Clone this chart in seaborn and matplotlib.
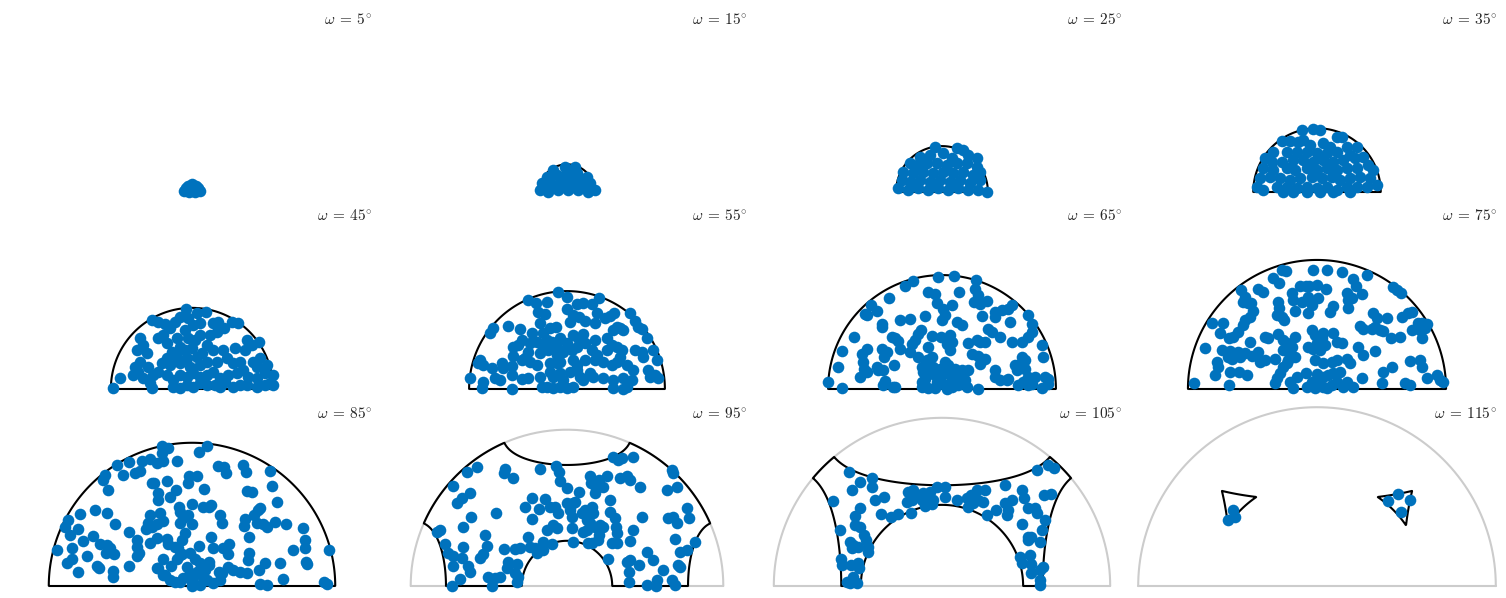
import numpy as np
import pandas as pd
import matplotlib
matplotlib.use("Agg")
import matplotlib.pyplot as plt
import seaborn as sns

# misorientation angle of each slice (degrees)
omegas = [5, 15, 25, 35, 45, 55, 65, 75, 85, 95, 105, 115]

# projected rotation axes in each slice, (x, y) offsets from the slice origin
pts_05 = [(-8, 1), (-4, 3), (0, 5), (4, 3), (8, 1), (-3, 0), (3, 0), (0, 2), (0, 8),
          (-4, 6), (4, 6), (-6, 4), (6, 4)]
pts_15 = [(-14, 22), (-2, 25), (8, 25), (-20, 15), (-10, 17), (0, 19), (10, 19), (20, 15),
          (-25, 9), (-17, 9), (-7, 10), (3, 10), (13, 10), (23, 9), (-27, 2), (-19, 0),
          (-9, 2), (1, 2), (11, 2), (21, 0), (28, 2), (-5, 5), (6, 5), (16, 5), (-13, 5),
          (-22, 5), (5, 14), (-5, 14), (15, 12)]
pts_25 = [(-7, 45), (15, 44), (21, 42), (-22, 35), (-12, 37), (1, 39), (10, 34), (26, 37),
          (35, 34), (-32, 29), (-25, 27), (-15, 29), (-5, 29), (5, 27), (15, 29), (25, 29),
          (35, 25), (38, 20), (-39, 20), (-29, 19), (-19, 20), (-9, 19), (1, 20), (11, 19),
          (21, 20), (31, 17), (-40, 12), (-32, 10), (-22, 12), (-12, 10), (-2, 12), (8, 10),
          (18, 12), (28, 9), (38, 12), (-44, 4), (-34, 2), (-24, 4), (-14, 2), (-4, 4),
          (6, 2), (16, 4), (26, 2), (36, 2), (45, 0)]
pts_35 = [(-15, 62), (-4, 63), (3, 62), (-14, 52), (20, 55), (25, 55), (-35, 51), (-27, 51),
          (-19, 50), (-7, 47), (6, 49), (13, 45), (30, 45), (40, 45), (-44, 40), (-30, 40),
          (-20, 40), (-10, 40), (0, 39), (10, 39), (20, 40), (33, 37), (-52, 34), (-45, 30),
          (-35, 30), (-24, 32), (-14, 32), (-4, 30), (6, 32), (16, 30), (26, 32), (38, 34),
          (46, 35), (-54, 24), (-44, 22), (-30, 24), (-22, 22), (-10, 24), (0, 22), (10, 24),
          (20, 22), (30, 24), (40, 24), (51, 27), (56, 22), (-57, 14), (-47, 15), (-37, 14),
          (-27, 12), (-17, 14), (-5, 15), (5, 14), (15, 15), (23, 12), (33, 14), (43, 15),
          (53, 14), (-60, 5), (-54, 2), (-40, 5), (-30, 5), (-20, 4), (-10, 5), (0, 4),
          (10, 5), (20, 2), (30, 5), (40, 5), (50, 5), (60, 7), (-34, 0), (-24, 0), (-10, 0),
          (3, 0), (16, 0), (33, 0)]
pts_45 = [(-6, 80), (5, 76), (14, 77), (-12, 72), (-4, 71), (-40, 69), (-34, 67), (-27, 65),
          (-22, 61), (-17, 67), (1, 64), (8, 66), (21, 66), (26, 67), (40, 67), (46, 66),
          (32, 61), (25, 57), (18, 54), (-52, 51), (-49, 44), (-55, 39), (-45, 36), (-34, 51),
          (-29, 54), (-25, 46), (-15, 51), (-7, 59), (-4, 51), (3, 49), (8, 54), (15, 44),
          (-12, 42), (-7, 39), (0, 41), (-20, 37), (-25, 31), (-15, 32), (-5, 31), (5, 32),
          (10, 36), (21, 39), (31, 39), (43, 41), (55, 49), (60, 44), (53, 39), (67, 47),
          (-52, 27), (-57, 22), (-54, 17), (-59, 14), (-44, 22), (-39, 14), (-34, 17),
          (-30, 26), (-22, 24), (-12, 26), (-2, 22), (8, 24), (15, 27), (25, 27), (35, 31),
          (41, 26), (48, 27), (61, 27), (68, 31), (75, 24), (65, 22), (-72, 11), (-49, 11),
          (-42, 6), (-25, 14), (-19, 9), (-12, 14), (-5, 12), (1, 16), (8, 12), (15, 14),
          (21, 17), (28, 11), (36, 14), (45, 16), (51, 19), (56, 12), (65, 11), (73, 16),
          (78, 6), (81, 14), (-79, 1), (-40, 1), (-19, 2), (-12, 1), (-5, 4), (1, 2), (8, 6),
          (15, 4), (23, 4), (28, 2), (33, 7), (41, 2), (48, 4), (55, 4), (65, 2), (73, 4),
          (81, 4)]
pts_55 = [(-9, 97), (0, 92), (-39, 89), (-31, 86), (-20, 87), (-29, 77), (-22, 75), (0, 80),
          (10, 85), (16, 86), (25, 85), (32, 91), (-59, 63), (-74, 61), (-77, 56), (-27, 66),
          (-17, 61), (-11, 62), (-47, 60), (3, 67), (6, 74), (12, 72), (18, 68), (30, 76),
          (28, 66), (38, 71), (43, 73), (47, 76), (63, 76), (68, 68), (71, 62), (75, 60),
          (-24, 56), (-35, 56), (-45, 49), (-49, 44), (-37, 46), (-54, 42), (-30, 47),
          (-20, 49), (-15, 47), (-7, 51), (0, 46), (6, 54), (11, 51), (16, 55), (18, 46),
          (28, 49), (40, 51), (46, 59), (50, 62), (53, 61), (56, 59), (-39, 37), (-42, 31),
          (-24, 41), (-27, 36), (-19, 39), (-10, 42), (-10, 34), (-4, 37), (5, 39), (10, 42),
          (25, 39), (30, 34), (40, 39), (45, 44), (50, 42), (55, 39), (68, 39), (75, 37),
          (80, 51), (86, 39), (90, 29), (76, 32), (-87, 29), (-89, 26), (-84, 24), (-75, 21),
          (-65, 26), (-64, 21), (-54, 33), (-55, 23), (-45, 29), (-37, 27), (-30, 24),
          (-17, 26), (-10, 26), (-7, 27), (6, 29), (10, 24), (18, 29), (28, 29), (36, 27),
          (45, 24), (50, 27), (53, 32), (60, 24), (66, 19), (-97, 11), (-84, 7), (-85, 1),
          (-72, 11), (-67, 9), (-55, 14), (-45, 10), (-39, 11), (-27, 12), (-17, 17), (-14, 12),
          (-7, 16), (-4, 9), (3, 17), (10, 19), (13, 12), (16, 9), (23, 16), (26, 12),
          (36, 11), (46, 9), (56, 11), (65, 9), (81, 19), (83, 12), (88, 14), (91, 11),
          (-55, 0), (-25, 2), (-20, 2), (-14, 1), (-7, 2), (0, 1), (6, 2), (46, 1), (60, 2),
          (56, 0)]
pts_65 = [(-29, 108), (-37, 103), (-4, 112), (12, 113), (34, 109), (-14, 97), (-7, 95),
          (17, 97), (33, 100), (36, 94), (32, 87), (38, 85), (45, 88), (-53, 91), (-71, 84),
          (-65, 78), (-77, 75), (-75, 74), (-5, 86), (1, 80), (10, 84), (3, 74), (0, 69),
          (-17, 73), (-60, 65), (-42, 69), (-32, 70), (-60, 62), (15, 67), (20, 64), (40, 73),
          (53, 77), (60, 79), (66, 80), (70, 84), (53, 72), (68, 67), (86, 74), (90, 65),
          (-88, 52), (-50, 52), (-47, 51), (-44, 48), (-42, 40), (-21, 59), (-24, 55),
          (-10, 53), (-1, 52), (8, 54), (10, 47), (5, 45), (8, 39), (26, 46), (35, 49),
          (38, 47), (43, 47), (46, 60), (50, 57), (58, 52), (70, 47), (80, 47), (86, 52),
          (90, 57), (100, 44), (101, 32), (-100, 38), (-80, 35), (-75, 40), (-60, 40),
          (-55, 37), (-58, 32), (-30, 45), (-27, 49), (-32, 37), (-14, 42), (-24, 32),
          (-10, 32), (-15, 29), (30, 35), (36, 33), (40, 30), (43, 30), (38, 25), (80, 32),
          (83, 29), (76, 24), (-79, 27), (-78, 20), (-104, 22), (-82, 12), (-75, 17),
          (-65, 22), (-64, 19), (-59, 19), (-48, 24), (-20, 22), (-19, 17), (-17, 10),
          (-20, 7), (-14, 15), (-9, 22), (-7, 14), (-5, 7), (-2, 20), (0, 14), (3, 27),
          (6, 24), (6, 17), (10, 10), (13, 20), (16, 14), (20, 19), (21, 9), (1, 5),
          (26, 19), (23, 9), (53, 19), (53, 12), (58, 9), (65, 9), (66, 10), (73, 24),
          (83, 20), (75, 19), (86, 12), (93, 12), (103, 12), (106, 10), (-114, 7), (-100, 1),
          (-57, 8), (-59, 4), (-49, 2), (-47, 2), (-20, 2), (-14, 1), (-7, 1), (5, 0),
          (10, 2), (16, 4), (25, 2), (36, 0), (76, 4), (81, 7), (86, 4), (90, 5), (100, 1),
          (106, 5)]
pts_75 = [(-35, 119), (-31, 118), (-4, 119), (10, 119), (25, 117), (50, 114), (-44, 111),
          (-38, 106), (-17, 103), (-11, 103), (-8, 103), (0, 104), (9, 100), (36, 110),
          (39, 103), (30, 96), (35, 91), (45, 95), (-76, 99), (-59, 100), (-54, 97), (76, 102),
          (80, 99), (84, 96), (-72, 92), (-69, 86), (-66, 86), (-74, 87), (-25, 96), (-24, 89),
          (-15, 87), (-9, 92), (1, 91), (-5, 84), (-9, 76), (-22, 78), (-39, 87), (-38, 81),
          (-35, 72), (-33, 69), (-40, 74), (16, 83), (13, 77), (31, 81), (31, 89), (-64, 78),
          (-67, 72), (-72, 69), (-74, 64), (-79, 57), (-84, 52), (-88, 51), (-97, 56),
          (-94, 66), (-105, 66), (56, 76), (60, 71), (70, 71), (85, 72), (91, 76), (95, 77),
          (101, 66), (105, 66), (110, 65), (108, 61), (103, 59), (95, 59), (105, 51), (43, 63),
          (46, 60), (55, 60), (63, 59), (66, 58), (58, 62), (74, 51), (83, 52), (-52, 52),
          (-49, 51), (-39, 55), (-34, 49), (-30, 46), (-22, 52), (-25, 42), (-34, 39),
          (-27, 36), (-29, 29), (-22, 32), (-30, 26), (-34, 22), (-37, 16), (-40, 11),
          (-42, 6), (-5, 59), (-2, 54), (6, 56), (5, 51), (0, 46), (-9, 42), (-4, 40), (3, 39),
          (8, 44), (16, 56), (20, 47), (25, 46), (-112, 41), (-95, 39), (-87, 38), (-79, 37),
          (-89, 32), (-85, 30), (-77, 32), (-67, 47), (-59, 37), (-65, 33), (-57, 27),
          (-52, 29), (-42, 30), (-100, 27), (-99, 22), (-102, 14), (-87, 17), (-78, 17),
          (-70, 14), (41, 42), (46, 34), (58, 38), (-2, 29), (6, 26), (15, 27), (20, 29),
          (30, 30), (33, 26), (93, 28), (103, 29), (105, 22), (75, 22), (66, 17), (-20, 12),
          (-11, 16), (0, 15), (6, 12), (11, 14), (16, 16), (23, 17), (-5, 7), (1, 6), (6, 2),
          (15, 4), (20, 7), (-10, 2), (-2, 1), (10, 1), (-27, 7), (-24, 1), (26, 2), (36, 2),
          (45, 11), (30, 7), (-123, 6), (-88, 4), (65, 6), (88, 6), (93, 4), (110, 11),
          (120, 14), (123, 9), (126, 7), (-72, 36)]
pts_85 = [(-30, 140), (-24, 138), (-30, 133), (-29, 125), (7, 134), (15, 140), (-75, 121),
          (-63, 124), (-50, 125), (-42, 127), (-35, 123), (-15, 125), (-87, 111), (-89, 106),
          (-69, 111), (-57, 113), (-52, 115), (-40, 103), (-38, 103), (-25, 105), (-3, 110),
          (5, 110), (-4, 103), (-84, 96), (-34, 93), (-34, 86), (-22, 89), (-16, 96), (26, 120),
          (32, 119), (34, 113), (51, 121), (54, 114), (78, 115), (12, 97), (55, 95), (60, 94),
          (80, 100), (85, 84), (-97, 76), (-85, 73), (-112, 72), (-124, 66), (-127, 59),
          (-122, 51), (-114, 57), (-120, 38), (-135, 36), (-99, 50), (-109, 45), (-92, 42),
          (-85, 41), (-82, 38), (-78, 32), (-86, 33), (-105, 30), (-120, 27), (-125, 23),
          (-114, 14), (-95, 20), (-93, 18), (-79, 15), (-79, 9), (-77, 62), (-63, 54),
          (-55, 46), (-55, 39), (-53, 33), (-55, 30), (-63, 20), (-42, 71), (-32, 73),
          (-44, 63), (-35, 62), (-29, 65), (-40, 59), (-46, 57), (-42, 43), (-35, 48),
          (-25, 47), (-24, 42), (-13, 79), (-12, 74), (0, 82), (-9, 68), (-4, 71), (-12, 63),
          (0, 62), (-7, 53), (11, 79), (17, 79), (19, 81), (28, 71), (30, 63), (19, 49),
          (7, 40), (21, 38), (31, 38), (37, 42), (36, 32), (-17, 39), (-14, 38), (-10, 46),
          (-12, 31), (53, 67), (52, 60), (62, 71), (66, 76), (68, 78), (65, 63), (71, 62),
          (75, 59), (83, 64), (94, 62), (111, 58), (57, 49), (57, 33), (56, 26), (113, 46),
          (113, 38), (114, 24), (115, 22), (101, 36), (137, 36), (-29, 27), (-34, 18),
          (-21, 20), (-27, 11), (-15, 27), (-10, 32), (-2, 33), (3, 27), (8, 23), (17, 24),
          (17, 21), (-5, 19), (-2, 13), (1, 9), (5, 14), (8, 16), (11, 9), (-12, 4), (-17, 4),
          (-9, 8), (0, 3), (8, 1), (15, 6), (21, 3), (0, 0), (13, 16), (-29, 11), (-35, 18),
          (-22, 6), (27, 14), (30, 13), (36, 19), (41, 16), (48, 14), (55, 13), (28, 6),
          (67, 16), (73, 23), (88, 23), (91, 7), (68, 2), (75, 1), (132, 4), (135, 2)]
pts_95 = [(46, 129), (51, 126), (55, 128), (66, 129), (-90, 119), (-100, 114), (-62, 117),
          (-63, 113), (-54, 108), (-27, 117), (-11, 120), (-8, 114), (-7, 105), (-114, 100),
          (-97, 93), (-105, 88), (-110, 83), (0, 98), (12, 94), (23, 110), (32, 106), (40, 110),
          (24, 103), (29, 97), (28, 93), (36, 99), (53, 108), (63, 106), (73, 99), (60, 110),
          (105, 116), (106, 113), (100, 96), (110, 99), (-35, 88), (-22, 87), (-42, 79),
          (-28, 77), (-17, 79), (-12, 79), (-9, 73), (0, 83), (3, 76), (6, 83), (5, 69),
          (8, 84), (-71, 73), (-96, 69), (-104, 59), (-35, 67), (15, 73), (18, 76), (25, 79),
          (26, 73), (20, 66), (23, 63), (28, 59), (33, 61), (36, 59), (20, 56), (16, 54),
          (43, 86), (43, 74), (48, 68), (-14, 61), (-20, 56), (-10, 58), (5, 58), (-130, 54),
          (-127, 56), (-82, 51), (-39, 49), (75, 69), (101, 68), (106, 69), (110, 63),
          (122, 68), (120, 78), (49, 59), (50, 53), (66, 56), (63, 45), (45, 43), (50, 43),
          (25, 43), (32, 51), (31, 46), (21, 43), (-122, 42), (-104, 39), (-80, 40), (-63, 37),
          (-52, 37), (-47, 38), (-37, 39), (-32, 38), (-30, 33), (-24, 44), (-15, 42), (6, 44),
          (-24, 36), (-119, 33), (-114, 30), (-105, 28), (-84, 32), (-87, 28), (108, 47),
          (128, 44), (120, 36), (113, 34), (80, 34), (41, 27), (60, 24), (63, 26), (72, 21),
          (86, 26), (96, 16), (111, 21), (113, 19), (-114, 20), (-99, 20), (-97, 14), (-59, 24),
          (-50, 22), (-60, 18), (-52, 13), (-49, 9), (-107, 7), (-79, 9), (-72, 8), (-67, 9),
          (-75, 0), (-115, 0), (-50, 4), (62, 14), (62, 4), (80, 1), (90, 6), (89, 0), (105, 6),
          (108, 1)]
pts_105 = [(-93, 114), (-82, 104), (-70, 108), (-70, 99), (-90, 96), (-109, 85), (-67, 86),
           (-58, 89), (-87, 70), (-82, 78), (-61, 72), (-51, 69), (-44, 72), (-31, 73),
           (-102, 56), (-87, 61), (-82, 59), (-78, 51), (-92, 44), (-89, 41), (-84, 39),
           (-76, 46), (-74, 39), (-74, 34), (-90, 38), (-101, 27), (-100, 21), (-91, 21),
           (-84, 23), (-83, 18), (-89, 9), (-95, 4), (-85, 3), (-92, 3), (-34, 94), (-29, 96),
           (-24, 90), (-19, 93), (-15, 89), (-20, 86), (-12, 94), (-9, 86), (-5, 99), (3, 99),
           (3, 89), (-10, 82), (-17, 80), (-30, 86), (-35, 84), (15, 86), (25, 88), (29, 91),
           (26, 79), (31, 83), (36, 86), (41, 84), (35, 96), (43, 96), (45, 71), (54, 76),
           (63, 101), (63, 83), (66, 76), (65, 71), (70, 86), (80, 96), (82, 88), (86, 78),
           (93, 78), (95, 73), (95, 116), (106, 121), (112, 118), (102, 91), (109, 92),
           (103, 66), (80, 62), (86, 49), (89, 49), (100, 56), (98, 44), (86, 46), (78, 29),
           (80, 23), (89, 22), (88, 31), (89, 13), (101, 19), (98, 16), (98, 6), (98, 1)]
pts_115 = [(-84, 76), (-82, 69), (-89, 66), (81, 92), (71, 85), (93, 86), (84, 74)]

slices = [pts_05, pts_15, pts_25, pts_35, pts_45, pts_55,
          pts_65, pts_75, pts_85, pts_95, pts_105, pts_115]

SCALE = 212.0  # projected radius of the full sphere of axes (w = 180)
BLUE = "#0072BD"
GREY = "#cccccc"


def fz_field(w):
    # orthorhombic FZ (|r_i| <= 1) cut at angle w, equal-area view of upper half
    R = SCALE * np.sin(np.radians(w) / 2)
    t = np.tan(np.radians(w) / 2)
    X, Y = np.meshgrid(np.linspace(-1.06 * R, 1.06 * R, 1100),
                       np.linspace(-0.06 * R, 1.06 * R, 560))
    rho = np.hypot(X, Y) / R
    th = 2 * np.arcsin(np.clip(rho, 0, 1) / np.sqrt(2))
    ph = np.arctan2(Y, X)
    n = np.abs(np.stack([np.sin(th) * np.cos(ph), np.sin(th) * np.sin(ph), np.cos(th)]))
    g = np.maximum.reduce([rho - 1, -Y / R, t * n.max(axis=0) - 1])
    return X, Y, g, R


sns.set_style("white")
plt.rcParams["mathtext.fontset"] = "cm"

fig = plt.figure(figsize=(15.06, 5.98), dpi=100)
W, H = 1506, 598

for i, (w, pts) in enumerate(zip(omegas, slices)):
    row, col = divmod(i, 4)
    cx = 192 + 375 * col
    base = 192 + 197 * row
    ax = fig.add_axes([(cx - 187) / W, (H - base - 8) / H, 374 / W, 193 / H])
    ax.axis("off")

    X, Y, g, R = fz_field(w)
    if w > 90:
        a = np.linspace(0, np.pi, 300)
        ax.plot(R * np.cos(a), R * np.sin(a), color=GREY, lw=1.5, zorder=1)
        ax.plot([-R, R], [0, 0], color=GREY, lw=1.5, zorder=1)
    ax.contour(X, Y, g, levels=[0], colors="black", linewidths=1.5, zorder=2)

    df = pd.DataFrame(pts, columns=["x", "y"])
    sns.scatterplot(data=df, x="x", y="y", ax=ax, color=BLUE, s=70,
                    linewidth=0, zorder=3, legend=False)
    ax.set_xlim(-187, 187)
    ax.set_ylim(-8, 185)
    ax.set_xlabel("")
    ax.set_ylabel("")
    ax.text(180, 173, r"$\omega\:=\:%d^{\circ}$" % w, ha="right", va="center",
            fontsize=11, clip_on=False)

fig.savefig("out.png", dpi=100)
plt.close(fig)
